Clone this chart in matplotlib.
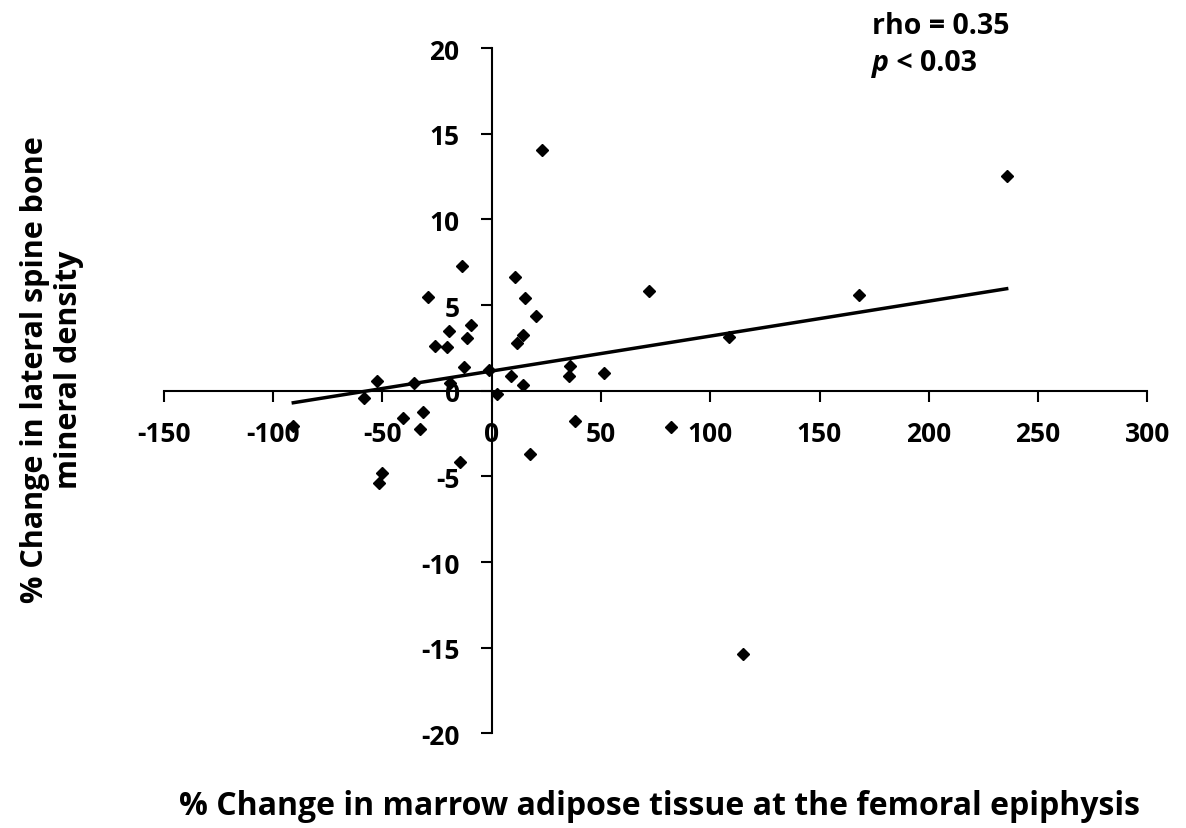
import numpy as np
import matplotlib
matplotlib.use("Agg")
import matplotlib.pyplot as plt

# % change in marrow adipose tissue (x) vs % change in lateral spine BMD (y)
mat_change = [-13.7, -29.0, 10.5, 15.2, 20.3, -9.3, -19.4, -11.4, -25.8, -20.3,
              14.2, 11.4, -12.8, -1.1, -52.3, -35.5, -19.1, 9.1, 14.2, -58.3,
              2.7, -31.3, -40.4, -32.6, -90.7, 17.5, -14.4, -50.0, -51.7, 23.1,
              71.9, 35.8, 35.3, 51.3, 38.1, 82.0, 168.1, 108.8, 235.6, 114.9]
bmd_change = [7.30, 5.49, 6.62, 5.39, 4.38, 3.84, 3.49, 3.06, 2.63, 2.53,
              3.25, 2.77, 1.38, 1.21, 0.57, 0.45, 0.43, 0.84, 0.35, -0.44,
              -0.19, -1.26, -1.61, -2.25, -2.04, -3.68, -4.14, -4.80, -5.41, 14.07,
              5.80, 1.42, 0.88, 1.05, -1.79, -2.14, 5.56, 3.14, 12.53, -15.37]

x_ticks = list(range(-150, 301, 50))
y_ticks = list(range(-20, 21, 5))

FONT = "Open Sans"
plt.rcParams["font.family"] = [FONT, "DejaVu Sans"]
plt.rcParams["font.weight"] = "bold"
plt.rcParams["axes.unicode_minus"] = False

fig = plt.figure(figsize=(11.86, 8.29), dpi=100)
ax = fig.add_axes([0.138, 0.1142, 0.8295, 0.8266])

x = np.array(mat_change)
y = np.array(bmd_change)
ax.plot(x, y, linestyle="none", marker="D", ms=6.6, color="black", zorder=3)

# linear trend line over data range
k, b = np.polyfit(x, y, 1)
xl = np.array([x.min(), x.max()])
ax.plot(xl, k * xl + b, color="black", lw=2.5, zorder=2)

ax.set_xlim(-150, 300)
ax.set_ylim(-20, 20)
ax.set_xticks(x_ticks)
ax.set_yticks(y_ticks)

ax.spines["left"].set_position(("data", 0))
ax.spines["bottom"].set_position(("data", 0))
ax.spines["top"].set_visible(False)
ax.spines["right"].set_visible(False)
for s in ("left", "bottom"):
    ax.spines[s].set_linewidth(1.5)

ax.tick_params(axis="x", direction="out", length=8, width=1.5, pad=13, labelsize=19)
ax.tick_params(axis="y", direction="out", length=8, width=1.5, pad=15, labelsize=19)
for lab in ax.get_xticklabels() + ax.get_yticklabels():
    lab.set_fontweight("bold")

fig.text(0.5557, 0.017, "% Change in marrow adipose tissue at the femoral epiphysis",
         ha="center", va="baseline", fontsize=23, fontweight="bold")
fig.text(0.044, 0.554, "% Change in lateral spine bone\nmineral density",
         ha="center", va="center", rotation=90, fontsize=22, fontweight="bold",
         multialignment="center", linespacing=1.2)

fig.text(0.735, 0.9686, "rho = 0.35", ha="left", va="center", fontsize=20.5, fontweight="bold")
tp = fig.text(0.735, 0.9228, "p", ha="left", va="center", fontsize=20.5,
              fontweight="bold", fontstyle="italic")
ax.annotate(" < 0.03", xy=(1, 0), xycoords=tp, ha="left", va="bottom",
            fontsize=20.5, fontweight="bold", annotation_clip=False)

fig.savefig("out.png", dpi=100)
